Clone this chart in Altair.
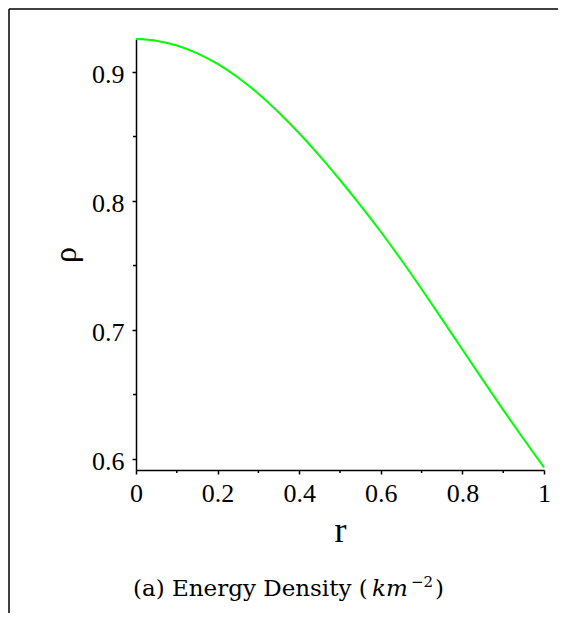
import altair as alt
import pandas as pd

# Data
r_vals = [0.0, 0.05, 0.1, 0.15, 0.2, 0.25, 0.3, 0.35, 0.4, 0.45, 0.5,
          0.55, 0.6, 0.65, 0.7, 0.75, 0.8, 0.85, 0.9, 0.95, 1.0]
rho_vals = [0.9256, 0.9243, 0.9205, 0.9145, 0.9063, 0.8958, 0.8832, 0.8686, 0.8525, 0.8350, 0.8163,
            0.7967, 0.7762, 0.7545, 0.7318, 0.7085, 0.6849, 0.6614, 0.6381, 0.6155, 0.5936]

x_major = [0, 0.2, 0.4, 0.6, 0.8, 1.0]
x_minor = [0.1, 0.3, 0.5, 0.7, 0.9]
y_major = [0.6, 0.7, 0.8, 0.9]
y_minor = [0.65, 0.75, 0.85]

W, H = 408, 431
FONT = "Liberation Serif, Times New Roman, Times, serif"
CAP_FONT = "DejaVu Serif"

df = pd.DataFrame({"r": r_vals, "rho": rho_vals})
xs = alt.Scale(domain=[0, 1], nice=False)
ys = alt.Scale(domain=[0.5915, 0.9256], nice=False, zero=False)

x_axis = alt.Axis(
    values=x_major, format="~g", title="r", grid=False,
    labelFont=FONT, labelFontSize=26, labelColor="black", labelPadding=6,
    tickSize=4, tickWidth=1.5, tickColor="black", domainColor="black", domainWidth=1.5,
    titleFont=FONT, titleFontSize=36, titleFontWeight="normal", titleColor="black",
    titleX=W / 2, titleY=71, titleBaseline="alphabetic", titleAlign="center",
    labelFlush=False)
y_axis = alt.Axis(
    values=y_major, format=".1f", title="ρ", grid=False,
    labelFont=FONT, labelFontSize=26, labelColor="black", labelPadding=8, labelOffset=2,
    tickSize=4, tickWidth=1.5, tickColor="black", domainColor="black", domainWidth=1.5,
    titleFont=FONT, titleFontSize=32, titleFontWeight="normal", titleColor="black",
    titleX=-61, titleY=H / 2, titleAngle=270, titleBaseline="alphabetic", titleAlign="center",
    labelFlush=False)

line = alt.Chart(df).mark_line(color="#00ff00", strokeWidth=2, interpolate="monotone").encode(
    x=alt.X("r:Q", scale=xs, axis=x_axis),
    y=alt.Y("rho:Q", scale=ys, axis=y_axis),
)

mx = alt.Chart(pd.DataFrame({"r": x_minor})).mark_rule(color="black", strokeWidth=1.5).encode(
    x=alt.X("r:Q", scale=xs, axis=x_axis), y=alt.value(H), y2=alt.value(H + 3))
my = alt.Chart(pd.DataFrame({"rho": y_minor})).mark_rule(color="black", strokeWidth=1.5).encode(
    y=alt.Y("rho:Q", scale=ys, axis=y_axis), x=alt.value(-3), x2=alt.value(0))

one = pd.DataFrame({"a": [0]})
frame_top = alt.Chart(one).mark_rule(color="black", strokeWidth=1.5).encode(
    x=alt.value(-127), x2=alt.value(422), y=alt.value(-30))
frame_left = alt.Chart(one).mark_rule(color="black", strokeWidth=1.5).encode(
    x=alt.value(-127), y=alt.value(-30), y2=alt.value(574))

cap_y = 557
cap1 = alt.Chart(one).mark_text(text="(a) Energy Density (", font=CAP_FONT, fontSize=23,
                                align="left", baseline="alphabetic", color="black").encode(
    x=alt.value(-3), y=alt.value(cap_y))
cap2 = alt.Chart(one).mark_text(text="km", font=CAP_FONT, fontSize=23, fontStyle="italic",
                                align="left", baseline="alphabetic", color="black").encode(
    x=alt.value(236), y=alt.value(cap_y))
cap3 = alt.Chart(one).mark_text(text="−2", font=CAP_FONT, fontSize=15,
                                align="left", baseline="alphabetic", color="black").encode(
    x=alt.value(275), y=alt.value(cap_y - 9))
cap4 = alt.Chart(one).mark_text(text=")", font=CAP_FONT, fontSize=23,
                                align="left", baseline="alphabetic", color="black").encode(
    x=alt.value(299), y=alt.value(cap_y))

chart = alt.layer(line, mx, my, frame_top, frame_left, cap1, cap2, cap3, cap4).properties(
    width=W, height=H,
    autosize=alt.AutoSizeParams(type="none"),
    padding={"left": 128, "top": 31, "right": 14, "bottom": 143},
).configure(background="white").configure_view(stroke=None)

chart.save("out.html", embed_options={"renderer": "svg", "actions": False})
